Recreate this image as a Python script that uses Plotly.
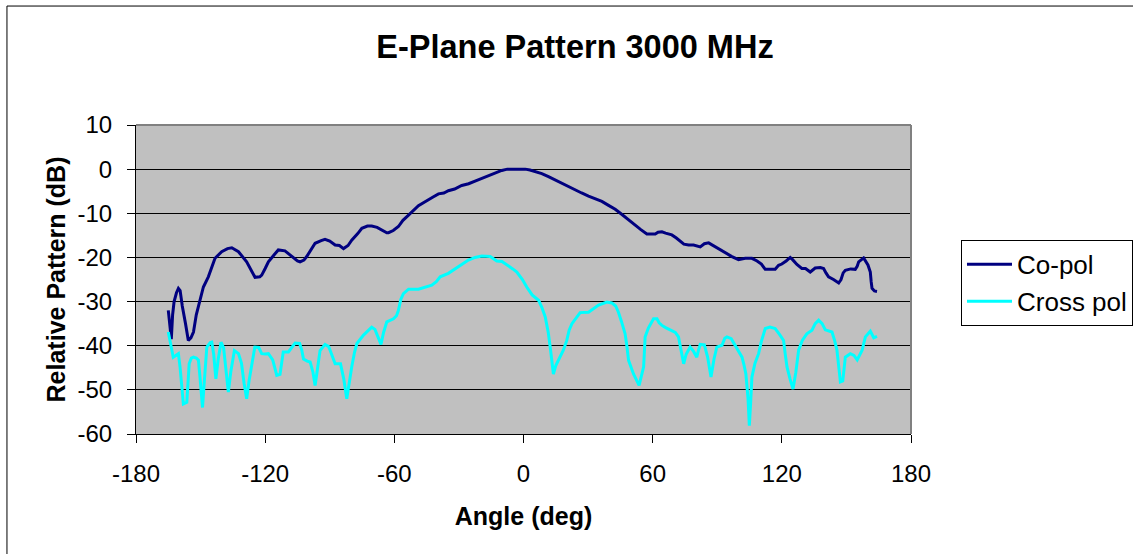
import plotly.graph_objects as go

# Co-pol (angle deg, relative pattern dB)
co_angle = [-165, -164.3, -163.6, -163, -162.3, -161.2, -160.3, -159.5, -158.5, -157,
            -155.7, -154.5, -153.3, -152, -151, -148.7, -146.4, -143.3, -140.2, -137.5,
            -135.5, -132.4, -128.6, -126, -124.7, -122.5, -121.6, -120, -118.5, -116,
            -113.9, -110.8, -107.7, -105, -103.8, -102, -100.7, -98.5, -96.8, -94,
            -92.2, -90, -87.5, -85.5, -83.6, -81.5, -79.8, -77, -75.1, -72.5,
            -70.5, -68, -65.8, -63.5, -62.7, -60.5, -58.1, -56, -53.4, -51,
            -48.8, -46.5, -44.1, -42, -39.5, -37, -34.9, -32, -28.7, -25.5,
            -22.5, -19.5, -16.3, -13, -10.1, -7.5, -5.4, -3, 0, 0.8,
            3, 5.4, 8.5, 11.6, 14.5, 17.8, 21, 24, 27, 30.2,
            33, 36.4, 39.5, 42.6, 45, 47.2, 49.5, 51.9, 54.5, 57.3,
            59, 61.2, 62.5, 64.3, 66, 68.9, 71, 73, 74.5, 76.7,
            79, 82.1, 84, 86, 88, 90.6, 93, 95, 96.8, 99.9,
            103, 106.1, 108.5, 110.5, 112.3, 114.5, 116.9, 118.5, 120, 122,
            123.9, 125, 127, 129.3, 131, 133.2, 135.5, 137.9, 139.4, 140.5,
            141.7, 144, 146.4, 147.5, 148.5, 149.5, 152, 154.1, 155, 155.7,
            158, 160, 161.1, 161.5, 161.9, 163, 164.2]
co_db = [-32, -36, -38.5, -33, -30, -28, -27, -27.5, -31, -35,
         -38.8, -38.2, -36.9, -33, -31.2, -26.7, -24.4, -20.2, -18.7, -18,
         -17.8, -18.7, -21, -23.5, -24.5, -24.4, -24, -22.5, -21, -19.5,
         -18.3, -18.5, -19.8, -20.8, -21, -20.6, -19.8, -18, -16.8, -16.2,
         -15.9, -16.3, -17.2, -17.3, -18, -17.3, -16.1, -14.6, -13.4, -12.9,
         -12.9, -13.2, -13.8, -14.4, -14.4, -13.9, -13, -11.6, -10.4, -9.2,
         -8.3, -7.6, -6.8, -6.3, -5.6, -5.4, -4.9, -4.5, -3.7, -3.3,
         -2.7, -2.1, -1.5, -0.9, -0.3, 0, 0, 0, 0, 0,
         -0.2, -0.5, -1, -1.7, -2.4, -3.2, -4.1, -4.8, -5.4, -6.1,
         -6.7, -7.3, -8.2, -9.1, -10, -10.9, -11.9, -12.7, -13.7, -14.7,
         -14.7, -14.7, -14.3, -14.2, -14.5, -14.9, -15.6, -16.3, -17, -17.2,
         -17.2, -17.6, -16.9, -16.7, -17.3, -18, -18.8, -19.4, -19.8, -20.5,
         -20.2, -20.2, -20.8, -21.5, -22.7, -22.7, -22.7, -21.8, -21.5, -20.8,
         -20, -20.5, -21.6, -22.5, -22.5, -23.3, -22.4, -22.3, -22.5, -23.5,
         -24.4, -25, -25.8, -25, -23.5, -22.9, -22.6, -22.7, -22, -21,
         -20.1, -21.7, -23.3, -25.5, -27, -27.6, -27.7]

# Cross pol
cx_angle = [-165, -163.8, -162.7, -161.5, -160.3, -159.5, -158.7, -158, -156.4, -155.8,
            -155.3, -154.3, -153.3, -152, -151, -150.3, -149.6, -149.1, -148.4, -147.6,
            -147.1, -145.5, -144.8, -143.9, -142.9, -141.8, -140.5, -139.3, -138.2, -137.1,
            -136, -134.3, -132.4, -131, -129.8, -128.6, -127.5, -126.3, -124.8, -123,
            -121.6, -120, -118.5, -116.5, -115.2, -114.6, -113.1, -112.3, -111.6, -109.2,
            -107.7, -106.1, -104, -103, -102.2, -100.5, -99.1, -97.8, -96.8, -95.8,
            -94.5, -92.2, -90.5, -89.8, -88.5, -87.5, -85, -83.5, -82.1, -81,
            -79.8, -78.5, -77.4, -74.3, -72, -70.5, -69, -68.2, -67, -66.2,
            -65, -63.5, -60.4, -59, -58.1, -57, -55.8, -53.4, -48.8, -45.7,
            -42.6, -40.5, -38.7, -34.9, -32.5, -30.2, -25.6, -22.5, -19.4, -15.5,
            -12.4, -10, -7.7, -5, -3.1, -0.5, 1.5, 4, 7, 8.5,
            10.1, 11.5, 12.4, 13.2, 13.9, 15, 16.3, 18.5, 20.1, 21.2,
            22.5, 24, 26.3, 30.2, 32.5, 34.9, 38.7, 41, 42.8, 44.1,
            45.5, 47.2, 48, 48.8, 51.1, 53.7, 55.2, 55.8, 56.5, 58,
            60.4, 62, 63, 64.3, 66, 68.9, 70.5, 72, 73.2, 74.4,
            75.5, 77.4, 79, 80.5, 81.3, 82.1, 84, 85.5, 87.1, 88.5,
            89.8, 92.2, 93.5, 94.5, 96.5, 99, 101.5, 102.5, 103.3, 104.3,
            104.9, 105.5, 106.1, 107.5, 109.2, 110.5, 112.3, 114.5, 116.9, 119,
            120.8, 121.6, 122.4, 123.8, 125.2, 126.5, 127.8, 129.5, 131.6, 134,
            135.5, 137.1, 138.7, 140.2, 143.3, 144.5, 145.6, 146.5, 147.2, 148.3,
            149.5, 151.8, 153.5, 155, 157.3, 158.8, 161.1, 162.7, 164.2]
cx_db = [-36.9, -39.5, -42.6, -42.2, -41.8, -45, -50, -53.2, -52.8, -49,
         -44.1, -42.8, -42.6, -42.8, -43.3, -47, -52, -54, -49, -43,
         -40.3, -39.3, -39.2, -42, -47.5, -43, -39.2, -40.5, -45, -50.5,
         -46, -41.1, -41.8, -44, -48.5, -52, -48, -44.8, -40.3, -40.4,
         -41.8, -41.9, -41.8, -43.2, -45.5, -46.7, -46.5, -43.5, -41.4, -41.4,
         -40.5, -39.4, -39.5, -41, -43, -43.5, -43.7, -46, -49, -45.5,
         -41.1, -39.7, -40.2, -41.1, -42.8, -44.1, -44.1, -47.5, -52, -48,
         -44.8, -41.5, -39.5, -37.6, -36.5, -35.8, -36.3, -37.3, -38.8, -39.7,
         -37, -34.6, -33.9, -33.2, -32, -29.5, -28.2, -27.2, -27.2, -26.7,
         -26.3, -25.5, -24.4, -23.6, -22.8, -22.1, -20.6, -20, -19.7, -19.8,
         -20.8, -20.9, -21.6, -22.6, -23.3, -25, -26.7, -28.5, -29.7, -31.3,
         -33.5, -37, -40.3, -43.5, -46.4, -44.5, -43.3, -41, -38.8, -36.5,
         -35, -34, -32.5, -32.4, -31.6, -30.8, -30.1, -30.3, -31, -32.4,
         -34.5, -37.3, -40, -43.3, -46.4, -49, -46, -44.8, -38, -36,
         -33.9, -33.9, -34.8, -35.4, -35.9, -36.5, -37, -38, -41, -44.1,
         -42, -40.3, -41.3, -42.6, -41, -39.7, -39.8, -42.5, -47.1, -43,
         -40.3, -39.9, -38.3, -38, -38.4, -40.5, -42.6, -44.5, -46.4, -52,
         -58.1, -53, -47.1, -44, -41.8, -39, -36.1, -35.8, -36.1, -37.5,
         -38.8, -42, -44.8, -47.5, -49.8, -46, -41, -38.8, -37.3, -36.5,
         -35, -34.2, -35, -36.4, -36.9, -38.8, -41, -45, -48.2, -48,
         -42.6, -41.8, -42.2, -43.2, -41, -38, -36.7, -38.2, -37.9]

x_ticks = [-180, -120, -60, 0, 60, 120, 180]
y_ticks = [10, 0, -10, -20, -30, -40, -50, -60]

FONT = "Liberation Sans, Arial, sans-serif"
NAVY = "#000080"
CYAN = "#00FFFF"

fig = go.Figure()
fig.add_trace(go.Scatter(x=co_angle, y=co_db, mode="lines", name="Co-pol",
                         line=dict(color=NAVY, width=3)))
fig.add_trace(go.Scatter(x=cx_angle, y=cx_db, mode="lines", name="Cross pol",
                         line=dict(color=CYAN, width=3)))

fig.update_layout(
    width=1133, height=554,
    margin=dict(l=136, r=222, t=125, b=120, autoexpand=False),
    paper_bgcolor="white", plot_bgcolor="#C0C0C0",
    font=dict(family=FONT, color="black"),
    title=dict(text="E-Plane Pattern 3000 MHz", font=dict(size=32.5, weight="bold"),
               xref="container", yref="container", x=0.5075, y=0.915,
               xanchor="center", yanchor="middle"),
    legend=dict(x=1.0645, y=0.628, xanchor="left", yanchor="top",
                bordercolor="black", borderwidth=1, bgcolor="white",
                font=dict(size=26), itemwidth=45),
    showlegend=True,
)
fig.update_xaxes(range=[-180, 180], tickvals=x_ticks, ticktext=[str(v) for v in x_ticks],
                 ticks="outside", ticklen=8,
                 tickcolor="black", showline=True, linecolor="black", linewidth=1,
                 showgrid=False, zeroline=False, tickfont=dict(size=24),
                 ticklabelstandoff=10,
                 title=dict(text="Angle (deg)", font=dict(size=25, weight="bold"),
                            standoff=21))
fig.update_yaxes(range=[-60, 10], tickvals=y_ticks, ticktext=[str(v) for v in y_ticks],
                 ticks="outside", ticklen=8,
                 tickcolor="black", showline=True, linecolor="black", linewidth=1,
                 showgrid=True, gridcolor="black", gridwidth=1, zeroline=False,
                 tickfont=dict(size=24), ticklabelstandoff=10,
                 title=dict(text="Relative Pattern (dB)",
                            font=dict(size=25, weight="bold"), standoff=4))

# gray border on top and right of plot area
fig.add_shape(type="line", xref="paper", yref="paper", x0=0, x1=1, y0=1, y1=1,
              line=dict(color="#808080", width=2))
fig.add_shape(type="line", xref="paper", yref="paper", x0=1, x1=1, y0=0, y1=1,
              line=dict(color="#808080", width=2))
# outer chart frame
fig.add_shape(type="rect", xref="paper", yref="paper", x0=-0.1665, x1=1.32,
              y0=-0.42, y1=1.385, line=dict(color="black", width=1), layer="below")

fig.write_html("out.html", config={"displayModeBar": False},
               post_script="document.body.style.margin='0';document.body.style.overflow='hidden';")
